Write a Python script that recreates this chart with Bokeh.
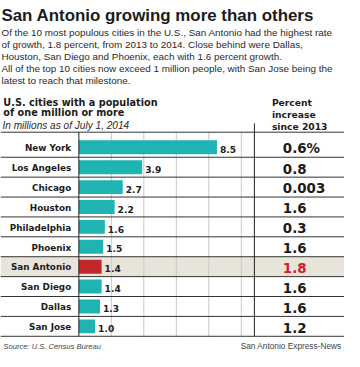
from bokeh.plotting import figure
from bokeh.models import ColumnDataSource, Range1d, Label
from bokeh.core.properties import value
from bokeh.embed import file_html
from bokeh.resources import INLINE

# ---------------- data ----------------
title = "San Antonio growing more than others"
intro_lines = [
    "Of the 10 most populous cities in the U.S., San Antonio had the highest rate",
    "of growth, 1.8 percent, from 2013 to 2014. Close behind were Dallas,",
    "Houston, San Diego and Phoenix, each with  1.6 percent growth.",
    "All of the top 10 cities now exceed 1 million people, with San Jose being the",
    "latest to reach that milestone.",
]
subtitle_lines = ["U.S. cities with a population", "of one million or more"]
unit_note = "In millions as of July 1, 2014"
pct_header = ["Percent", "increase", "since 2013"]
source_note = "Source: U.S. Census Bureau"
credit = "San Antonio Express-News"

cities = ["New York", "Los Angeles", "Chicago", "Houston", "Philadelphia",
          "Phoenix", "San Antonio", "San Diego", "Dallas", "San Jose"]
population = [8.5, 3.9, 2.7, 2.2, 1.6, 1.5, 1.4, 1.4, 1.3, 1.0]
pct_increase = ["0.6%", "0.8", "0.003", "1.6", "0.3", "1.6", "1.8", "1.6", "1.6", "1.2"]
grid_ticks = [2, 4, 6, 8, 10]
highlight_city = "San Antonio"

# ---------------- geometry (reference pixels -> data) ----------------
REF_W, REF_H = 360, 367
W, H = 344, 351
S = W / REF_W
X0, PX_PER_M = 82.0, 17.0
Y0, PX_PER_ROW = 153.5, 20.8


def xd(px):
    return (px - X0) / PX_PER_M


def yd(py):
    return (py - Y0) / PX_PER_ROW


def fs(px):
    return f"{px * S:.1f}px"


TEAL = "#1fb3b4"
RED = "#c1272d"
BAND = "#e8e4d9"
INK = "#1c1c1c"

p = figure(width=W, height=H,
           x_range=Range1d(xd(0), xd(REF_W)),
           y_range=Range1d(yd(REF_H), yd(0)),
           x_axis_type=None, y_axis_type=None,
           toolbar_location=None, output_backend="svg",
           min_border=0, outline_line_color=None,
           background_fill_color="white", border_fill_color="white")

rows = list(range(len(cities)))
hi = cities.index(highlight_city)
table_top = yd(137.7)
table_bottom = len(cities) - 0.5

src = ColumnDataSource(dict(
    y=rows,
    city=cities,
    pop=population,
    pop_label=[f"{v:.1f}" for v in population],
    pct=pct_increase,
    color=[RED if c == highlight_city else TEAL for c in cities],
    pct_color=[RED if c == highlight_city else INK for c in cities],
))

# highlight band
p.hbar(y=[hi], height=1, left=xd(0), right=xd(REF_W), fill_color=BAND, line_color=None)

# gridlines
p.segment(x0=grid_ticks, x1=grid_ticks,
          y0=[table_top] * len(grid_ticks), y1=[table_bottom] * len(grid_ticks),
          line_color="#c8c8c8", line_width=1)

# bars
p.hbar(y="y", left=0, right="pop", height=0.7, fill_color="color", line_color=None, source=src)

# row lines
bounds = [table_top] + [r + 0.5 for r in rows]
p.segment(x0=[xd(0)] * len(bounds), x1=[xd(REF_W)] * len(bounds), y0=bounds, y1=bounds,
          line_color="#333333", line_width=1)

# axis line and column separator
p.segment(x0=[0], x1=[0], y0=[table_top], y1=[table_bottom], line_color="#222222", line_width=1)
p.segment(x0=[xd(265.7)], x1=[xd(265.7)], y0=[yd(128.5)], y1=[table_bottom],
          line_color="#222222", line_width=1)

# city labels
p.text(x=xd(74), y="y", text="city", source=src, text_align="right", text_baseline="middle",
       y_offset=0.8, text_font=value("DejaVu Sans"), text_font_style="bold",
       text_font_size=fs(9.2), text_color=INK)

# bar value labels
p.text(x="pop", y="y", text="pop_label", source=src, x_offset=3, y_offset=2.2,
       text_align="left", text_baseline="middle",
       text_font=value("DejaVu Sans"), text_font_style="bold",
       text_font_size=fs(9.5), text_color="#222222")

# percent column
p.text(x=xd(295.5), y="y", text="pct", source=src, y_offset=1.4,
       text_align="left", text_baseline="middle",
       text_font=value("DejaVu Sans"), text_font_style="bold",
       text_font_size=fs(14), text_color="pct_color")


def label(txt, px, py, font, size, style="normal", align="left", color=INK):
    p.add_layout(Label(x=xd(px), y=yd(py), text=txt, text_font=font,
                       text_font_style=style, text_font_size=fs(size),
                       text_align=align, text_baseline="alphabetic",
                       text_color=color))


label(title, 1, 15.5, "Liberation Sans", 17.7, "bold")
for i, line in enumerate(intro_lines):
    label(line, 1, 33.3 + 12.5 * i, "Liberation Sans", 10.4, color="#2a2a2a")
for i, line in enumerate(subtitle_lines):
    label(line, 3, 106.7 + 10 * i, "DejaVu Sans", 10.1, "bold")
label(unit_note, 2, 131, "Liberation Sans", 10.6, "italic", color="#2a2a2a")
for i, line in enumerate(pct_header):
    label(line, 284, 106.7 + 12.3 * i, "DejaVu Sans", 9.6, "bold")
label(source_note, 3, 361.5, "Liberation Sans", 8.0, "italic", color="#444444")
label(credit, 357, 361.5, "Liberation Sans", 8.7, align="right", color="#444444")

open("out.html", "w").write(file_html(p, INLINE))
